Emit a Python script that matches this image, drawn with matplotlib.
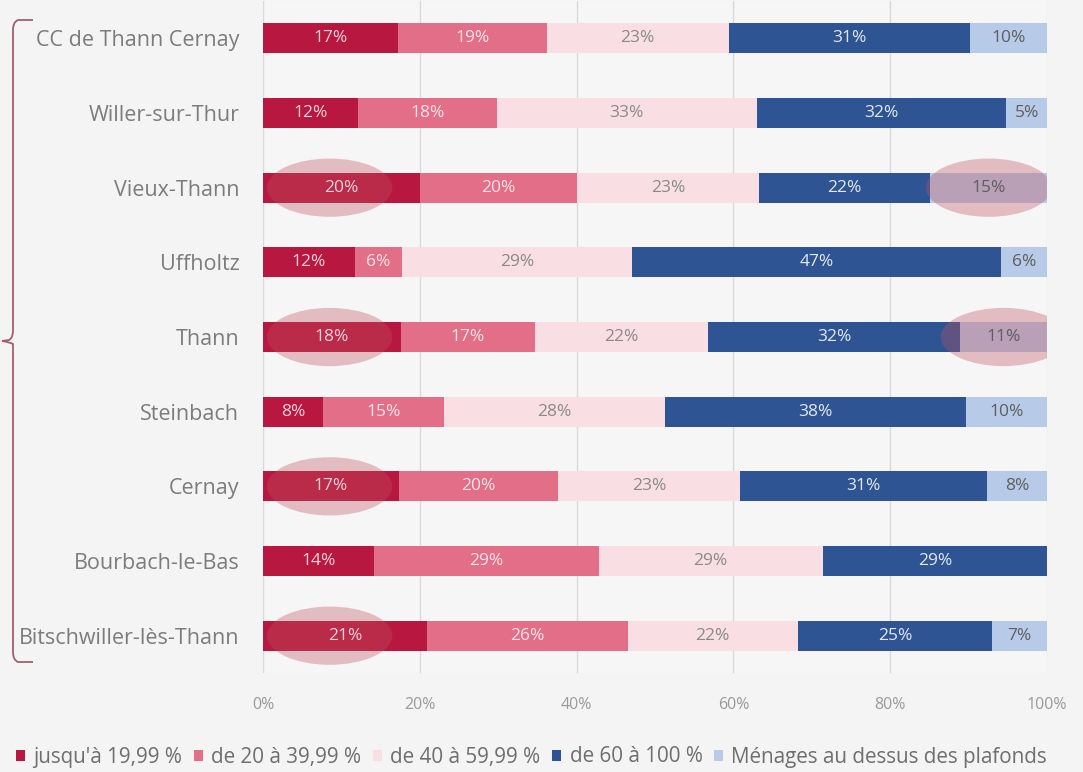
import matplotlib.pyplot as plt
import numpy as np
from matplotlib.patches import Ellipse
from matplotlib.path import Path
from matplotlib.patches import PathPatch

communes = ['CC de Thann Cernay', 'Willer-sur-Thur', 'Vieux-Thann', 'Uffholtz', 'Thann',
            'Steinbach', 'Cernay', 'Bourbach-le-Bas', 'Bitschwiller-lès-Thann']
series = ["jusqu'à 19,99 %", 'de 20 à 39,99 %', 'de 40 à 59,99 %', 'de 60 à 100 %',
          'Ménages au dessus des plafonds']
# shares (%)
s1 = [17.2, 12.1, 20.0, 11.7, 17.6, 7.7, 17.3, 14.2, 20.9]
s2 = [19.0, 17.7, 20.1, 6.0, 17.1, 15.4, 20.3, 28.6, 25.6]
s3 = [23.2, 33.2, 23.2, 29.4, 22.1, 28.2, 23.3, 28.6, 21.7]
s4 = [30.8, 31.8, 21.8, 47.0, 32.1, 38.4, 31.4, 28.6, 24.8]
s5 = [9.8, 5.2, 14.9, 5.9, 11.1, 10.3, 7.7, 0.0, 7.0]
xticks = [0, 20, 40, 60, 80, 100]
# highlighted cells (row, series)
highlights = [(2, 0), (2, 4), (4, 0), (4, 4), (6, 0), (8, 0)]

colors = ['#B8173F', '#E26F87', '#F9DEE3', '#2E5494', '#B7CBE8']
txt_colors = ['#F6D2DA', '#FBE3E8', '#8A8A8A', '#E3E9F4', '#5E5E5E']

fig = plt.figure(figsize=(10.83, 7.72), dpi=100, facecolor='#F4F4F4')
ax = fig.add_axes([0.2428, 0.1282, 0.724, 0.8705])
ax.set_facecolor('#F6F6F6')

data = [s1, s2, s3, s4, s5]
y = np.arange(len(communes))
left = np.zeros(len(communes))
for k, vals in enumerate(data):
    vals = np.array(vals)
    ax.barh(y, vals, left=left, height=0.4, color=colors[k], label=series[k], zorder=3)
    for i, v in enumerate(vals):
        if v > 0:
            ax.text(left[i] + v / 2, y[i], '{:.0f}%'.format(v), ha='center', va='center',
                    fontsize=12.5, color=txt_colors[k], zorder=5, family='Open Sans')
    left += vals

# translucent ellipses
cum = np.cumsum(np.array(data), axis=0)
for r, k in highlights:
    end = cum[k][r]
    start = end - data[k][r]
    cx = (start + end) / 2
    if k == 0:
        cx = 8.5
    ax.add_patch(Ellipse((cx, r), 16, 0.78, color='#C0505E', alpha=0.35, lw=0, zorder=4))

ax.set_xlim(0, 100)
ax.set_ylim(8.5, -0.5)
ax.set_yticks(y)
ax.set_yticklabels(communes, fontsize=15.5, color='#7C7C7C', family='Open Sans')
ax.set_xticks(xticks)
ax.set_xticklabels(['{}%'.format(t) for t in xticks], fontsize=11.5, color='#9A9A9A',
                   family='Open Sans')
ax.tick_params(axis='y', length=0, pad=17)
ax.tick_params(axis='x', length=0, pad=17)
ax.grid(axis='x', color='#D9D9D9', lw=1, zorder=0)
for s in ax.spines.values():
    s.set_visible(False)

# curly brace on the left
bx = fig.add_axes([0, 0, 1, 1], facecolor='none')
bx.set_xlim(0, 1083)
bx.set_ylim(772, 0)
bx.axis('off')
verts = [(33, 20), (18, 20), (13, 22), (13, 30), (13, 330), (13, 338), (9, 340), (2, 341),
         (9, 342), (13, 344), (13, 352), (13, 652), (13, 660), (18, 662), (33, 662)]
codes = [Path.MOVETO, Path.LINETO, Path.CURVE3, Path.CURVE3, Path.LINETO, Path.CURVE3, Path.CURVE3,
         Path.LINETO, Path.CURVE3, Path.CURVE3, Path.LINETO, Path.LINETO, Path.CURVE3, Path.CURVE3,
         Path.LINETO]
bx.add_patch(PathPatch(Path(verts, codes), fc='none', ec='#A0606E', lw=1.3))

fig.legend(loc='center left', bbox_to_anchor=(0.0148, 1 - 757 / 772), ncol=5, frameon=False,
           borderpad=0, borderaxespad=0,
           handlelength=0.45, handleheight=0.45, handletextpad=0.4, columnspacing=0.55,
           prop={'family': 'Open Sans', 'size': 14.9}, labelcolor='#6E6E6E')

fig.savefig('out.png', dpi=100, facecolor=fig.get_facecolor())
